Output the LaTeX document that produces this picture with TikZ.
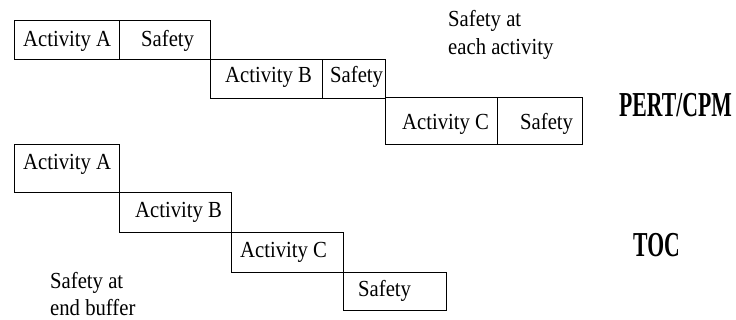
\documentclass[tikz,border=0pt]{standalone}
\usepackage{fontspec}
\setmainfont{Liberation Serif}
\newfontfamily\narrowserif[FakeStretch=0.9]{Liberation Serif}
\newfontfamily\headserif[FakeStretch=0.62]{Liberation Serif Bold}
\begin{document}
\begin{tikzpicture}[x=1pt,y=-1pt,
  box/.style={draw=black, line width=1.4pt, rectangle, inner sep=0pt, anchor=north west},
  lbl/.style={inner sep=0pt, anchor=base west, font=\narrowserif\fontsize{23}{27}\selectfont},
  note/.style={inner sep=0pt, anchor=base west, align=left, font=\narrowserif\fontsize{23}{28}\selectfont},
  head/.style={inner sep=0pt, anchor=base west, font=\headserif\fontsize{35}{40}\selectfont}]
\useasboundingbox (0,0) rectangle (736,320);

% ---- PERT/CPM: safety after every activity ----
\node[box, minimum width=105pt, minimum height=39pt] (pa) at (14,20) {};
\node[box, minimum width=91pt,  minimum height=39pt] (ps1) at (119,20) {};
\node[box, minimum width=112pt, minimum height=39pt] (pb) at (210,59) {};
\node[box, minimum width=63pt,  minimum height=39pt] (ps2) at (322,59) {};
\node[box, minimum width=112pt, minimum height=47pt] (pc) at (385,97) {};
\node[box, minimum width=85pt,  minimum height=47pt] (ps3) at (497,97) {};

\node[lbl] (pat)  at (23,47)  {Activity A};
\node[lbl] (ps1t) at (141,47) {Safety};
\node[lbl] (pbt)  at (225,83) {Activity B};
\node[lbl] (ps2t) at (330,83) {Safety};
\node[lbl] (pct)  at (402,130) {Activity C};
\node[lbl] (ps3t) at (520,130) {Safety};

% two-line notes: the base anchor sits on the last line
\node[note] (pnote) at (448,55) {Safety at\\each activity};
\node[head] (pert) at (619,117) {PERT/CPM};

% ---- TOC: one buffer at the end ----
\node[box, minimum width=105pt, minimum height=48pt] (ta) at (14,144) {};
\node[box, minimum width=112pt, minimum height=40pt] (tb) at (119,192) {};
\node[box, minimum width=112pt, minimum height=40pt] (tc) at (231,232) {};
\node[box, minimum width=103pt, minimum height=38pt] (ts) at (343,272) {};

\node[lbl] (tat) at (23,170)  {Activity A};
\node[lbl] (tbt) at (135,218) {Activity B};
\node[lbl] (tct) at (240,258) {Activity C};
\node[lbl] (tst) at (358,297) {Safety};

\node[note] (tnote) at (50,316) {Safety at\\end buffer};
\node[head] (toc) at (633,257) {TOC};
\end{tikzpicture}
\end{document}
